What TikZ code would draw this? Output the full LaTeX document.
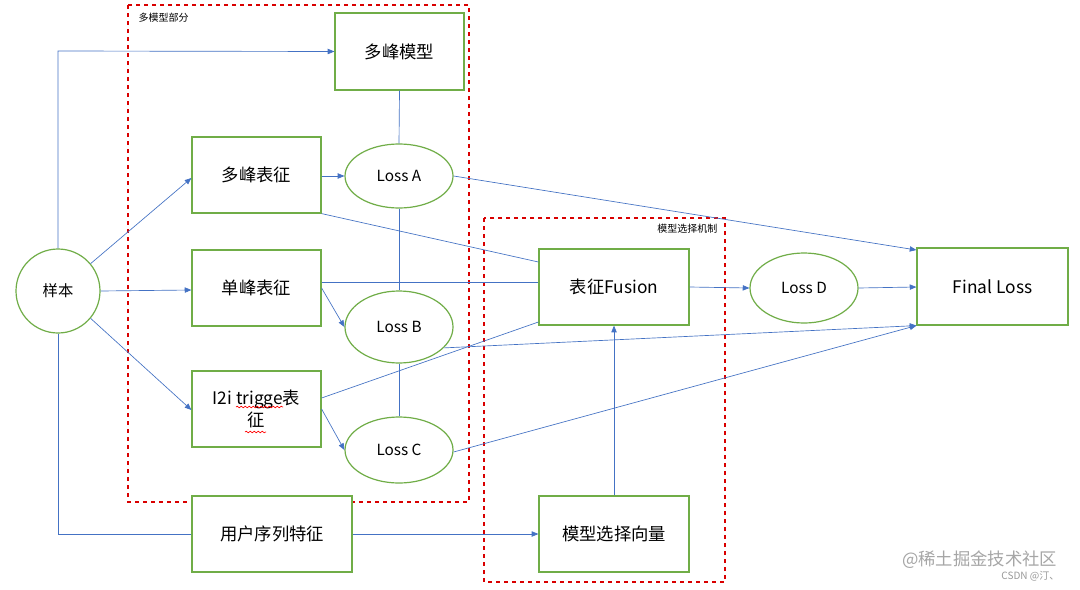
\documentclass[tikz,border=0pt]{standalone}
\usepackage{fontspec}
\setmainfont{Noto Sans CJK SC}
\usetikzlibrary{arrows.meta,decorations.pathmorphing,shapes.geometric}
\definecolor{gbord}{HTML}{70AD47}
\definecolor{lblue}{HTML}{4472C4}
\begin{document}
\begin{tikzpicture}[x=0.75pt,y=-0.75pt,
  box/.style={draw=gbord,line width=0.9pt,fill=white,inner sep=0,font=\fontsize{13}{16}\selectfont},
  ell/.style={draw=gbord,line width=0.9pt,ellipse,fill=white,inner sep=0,font=\fontsize{11.5}{14}\selectfont},
  con/.style={draw=lblue,line width=0.5pt},
  arr/.style={con,-{Triangle[length=5pt,width=4pt]}},
  reg/.style={draw=red!85!black,dashed,line width=0.8pt}]
\useasboundingbox (0,0) rectangle (1080,589);
\fill[white] (0,0) rectangle (1080,589);
\draw[reg] (128,5) rectangle (469,502);
\node[anchor=west,font=\fontsize{7.5}{9}\selectfont] (l1) at (134,18) {多模型部分};
\draw[reg] (484,218) rectangle (725,582);
\node[anchor=east,font=\fontsize{7.5}{9}\selectfont] (l2) at (722,229) {模型选择机制};

\node[box,minimum width=0.75*129,minimum height=0.75*77] (mm) at (399.5,51.5) {多峰模型};
\node[box,minimum width=0.75*129,minimum height=0.75*76] (dbz) at (256.5,175) {多峰表征};
\node[box,minimum width=0.75*129,minimum height=0.75*76] (sbz) at (256.5,288) {单峰表征};
\node[box,minimum width=0.75*129,minimum height=0.75*76,align=center] (i2i) at (256.5,409) {I2i trigge表\\征};
\draw[red,line width=0.5pt,decorate,decoration={snake,amplitude=0.6pt,segment length=3pt}] (236,407) -- (283,407);
\draw[red,line width=0.5pt,decorate,decoration={snake,amplitude=0.6pt,segment length=3pt}] (245,432) -- (266,432);
\node[box,minimum width=0.75*150,minimum height=0.75*76] (fus) at (614,287) {表征Fusion};
\node[box,minimum width=0.75*151,minimum height=0.75*77] (fl) at (992.5,286.5) {Final Loss};
\node[box,minimum width=0.75*150,minimum height=0.75*76] (msv) at (614,534) {模型选择向量};
\node[box,minimum width=0.75*160,minimum height=0.75*76] (user) at (272,534) {用户序列特征};
\node[ell,circle,minimum size=0.75*84] (s) at (58,291) {样本};
\node[ell,minimum width=0.75*108,minimum height=0.75*64] (la) at (399,176) {Loss A};
\node[ell,minimum width=0.75*108,minimum height=0.75*72] (lb) at (399,327) {Loss B};
\node[ell,minimum width=0.75*108,minimum height=0.75*66] (lc) at (399,450) {Loss C};
\node[ell,minimum width=0.75*108,minimum height=0.75*70] (ld) at (804,288) {Loss D};

\coordinate (c1) at (58,51);
\coordinate (c2) at (58,534);
\draw[arr] (s.north) -- (c1) -- (mm.west);
\draw[con] (s.south) -- (c2) -- (user.west);
\draw[arr] (s.40) -- (dbz.west|-0,178);
\draw[arr] (s.east) -- (sbz.west|-0,290);
\draw[arr] (s.-40) -- (i2i.west|-0,410);
\draw[arr] (dbz.east|-0,176) -- (la.west);
\draw[con] (mm.south) -- (la.north);
\draw[con] (la.south) -- (lb.north);
\draw[con] (lb.south) -- (lc.north);
\draw[arr] (sbz.east) -- (lb.west);
\draw[arr] (i2i.east) -- (lc.west);
\draw[con] (dbz.south east) -- (fus.west|-0,262);
\draw[con] (sbz.east|-0,282) -- (fus.west|-0,282);
\draw[con] (i2i.east|-0,398) -- (fus.west|-0,322);
\draw[arr] (la.east) -- (fl.west|-0,250);
\draw[arr] (fus.east) -- (ld.west);
\draw[arr] (ld.east) -- (fl.west|-0,287);
\draw[arr] (lb.-25) -- (fl.south west);
\draw[arr] (lc.east|-0,452) -- (fl.south west);
\draw[arr] (msv.north) -- (fus.south);
\draw[arr] (user.east) -- (msv.west);

\node[anchor=east,text=gray!70,font=\fontsize{13}{16}\selectfont] (wm) at (1062,560) {@稀土掘金技术社区};
\node[anchor=east,text=gray!80,font=\fontsize{7.5}{9}\selectfont] (wm2) at (1064,576) {CSDN @汀、};
\end{tikzpicture}
\end{document}
